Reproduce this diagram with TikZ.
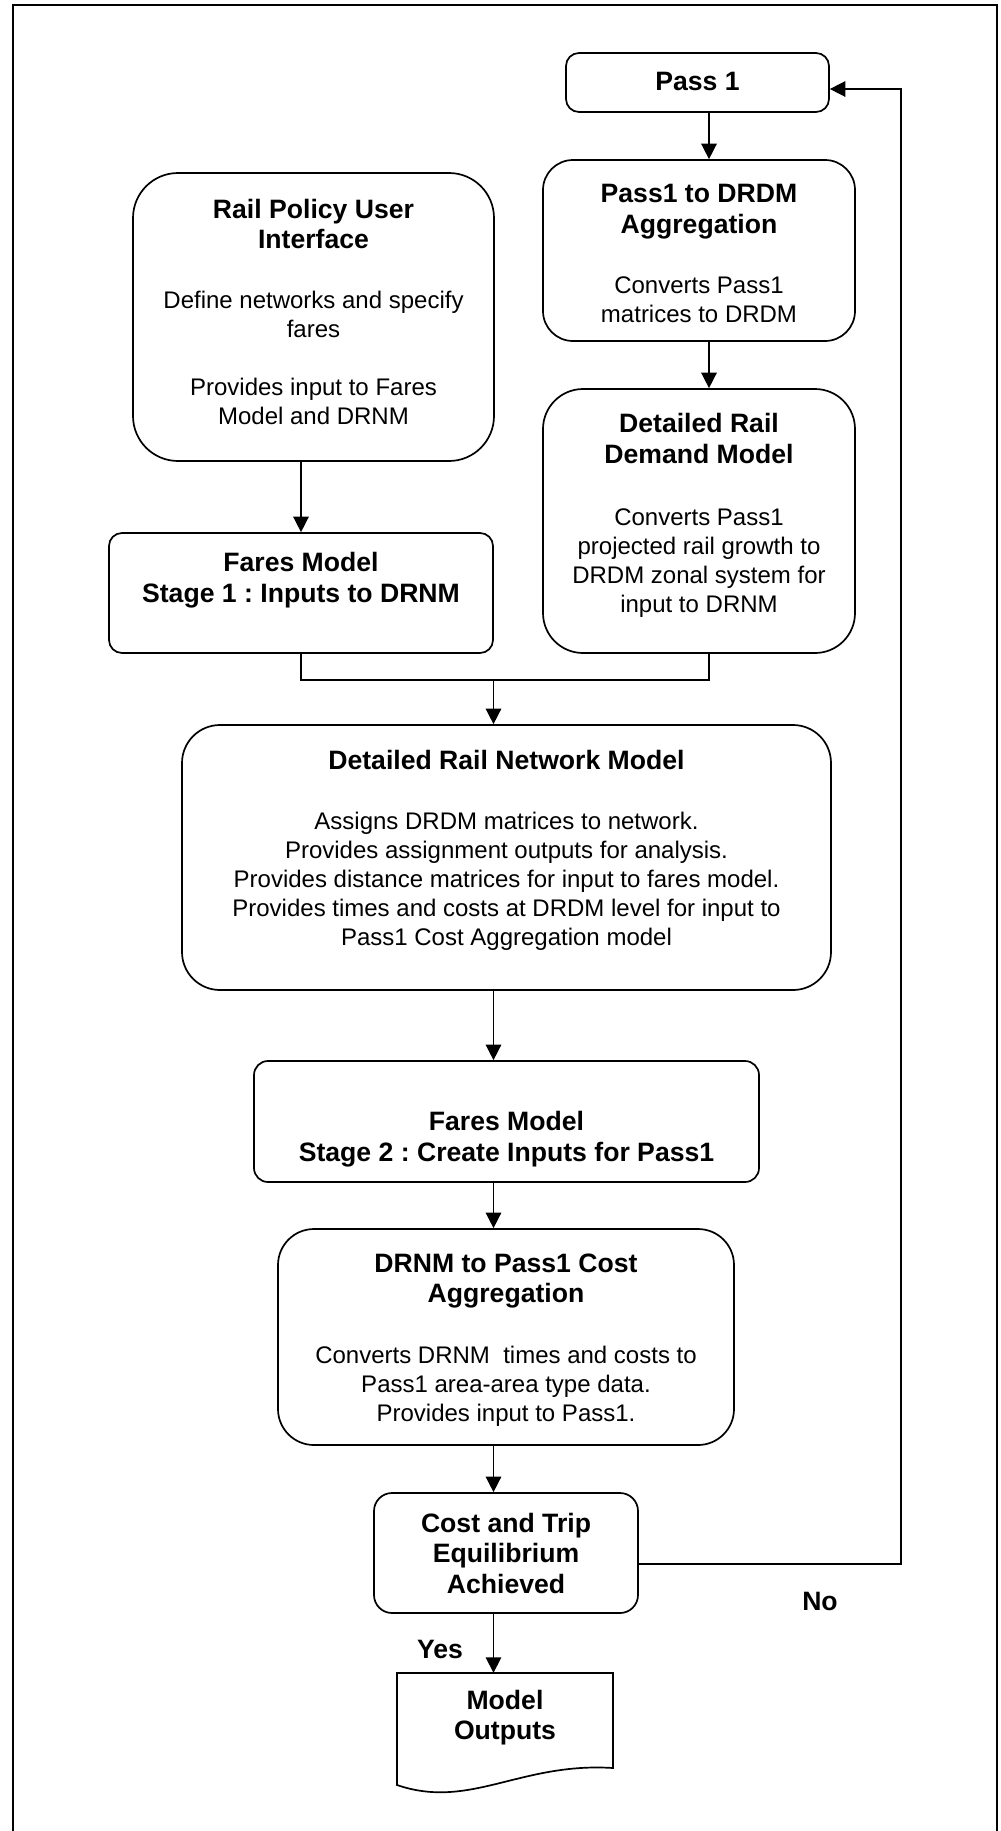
\documentclass[tikz,border=0pt]{standalone}
\usepackage{fontspec}
\setmainfont{Liberation Sans}
\usetikzlibrary{arrows.meta,calc}
\frenchspacing

\begin{document}
\begin{tikzpicture}[x=1pt,y=-1pt,
  box/.style={draw, line width=1.7pt, rectangle, inner sep=0pt},
  ttl/.style={font=\fontsize{26.6}{30.5}\selectfont\bfseries, align=center, inner sep=0pt},
  txt/.style={font=\fontsize{24}{29}\selectfont, align=center, inner sep=0pt},
  arr/.style={line width=1.5pt, -{Triangle[length=15.5pt,width=15.5pt]}},
  wire/.style={line width=1.5pt}]
\useasboundingbox (0,0) rectangle (1001,1831);
\fill[white] (0,0) rectangle (1001,1831);

% outer frame (open at the bottom edge of the page)
\draw[line width=2pt] (12.5,1845) |- (997,5) -- (997,1845);

% process boxes
\node[box, rounded corners=13pt, minimum width=263pt, minimum height=59pt]  (pass)    at (697.5,82.5) {};
\node[box, rounded corners=30pt, minimum width=312pt, minimum height=181pt] (agg)     at (699,250.5) {};
\node[box, rounded corners=45pt, minimum width=361pt, minimum height=288pt] (rail)    at (313.5,317) {};
\node[box, rounded corners=40pt, minimum width=312pt, minimum height=264pt] (drdm)    at (699,521) {};
\node[box, rounded corners=13pt, minimum width=384pt, minimum height=120pt] (fares1)  at (301,593) {};
\node[box, rounded corners=38pt, minimum width=649pt, minimum height=265pt] (drnm)    at (506.5,857.5) {};
\node[box, rounded corners=14pt, minimum width=505pt, minimum height=121pt] (fares2)  at (506.5,1121.5) {};
\node[box, rounded corners=36pt, minimum width=456pt, minimum height=216pt] (costagg) at (506,1337) {};
\node[box, rounded corners=18pt, minimum width=264pt, minimum height=120pt] (equil)   at (506,1553) {};

% document shape for the outputs
\node[inner sep=0pt, minimum width=216pt, minimum height=112pt] (out) at (505,1729) {};
\draw[line width=1.7pt, line join=miter]
  (397,1785) -- (397,1673) -- (613,1673) -- (613,1768)
  .. controls (520,1762) and (470,1810) .. (397,1785) -- cycle;

% box texts
\node[ttl] (passT) at (697.5,84) {\strut Pass 1\strut};

\node[ttl] (aggT) at (699,211.7) {\strut Pass1 to DRDM\\Aggregation\strut};
\node[txt] (aggB) at (699,302.4) {\strut Converts Pass1\\matrices to DRDM\strut};

\node[ttl] (railT) at (313.5,227.5) {\strut Rail Policy User\\Interface\strut};
\node[txt] (railB) at (313.5,360.9) {\strut Define networks and specify\\fares\\\strut\\Provides input to Fares\\Model and DRNM\strut};

\node[ttl] (drdmT) at (699,441.7) {\strut Detailed Rail\\Demand Model\strut};
\node[txt] (drdmB) at (699,562.9) {\strut Converts Pass1\\projected rail growth to\\DRDM zonal system for\\input to DRNM\strut};

\node[ttl] (fares1T) at (301,581) {\strut Fares Model\\Stage 1 : Inputs to DRNM\strut};

\node[ttl] (drnmT) at (506.5,763.7) {\strut Detailed Rail Network Model\strut};
\node[txt] (drnmB) at (506.5,882.1) {\strut Assigns DRDM matrices to network.\\Provides assignment outputs for analysis.\\Provides distance matrices for input to fares model.\\Provides times and costs at DRDM level for input to\\Pass1 Cost Aggregation model\strut};

\node[ttl] (fares2T) at (506.5,1140) {\strut Fares Model\\Stage 2 : Create Inputs for Pass1\strut};

\node[ttl] (costaggT) at (506,1281.2) {\strut DRNM to Pass1 Cost\\Aggregation\strut};
\node[txt] (costaggB) at (506,1387.1) {\strut Converts DRNM~ times and costs to\\Pass1 area-area type data.\\Provides input to Pass1.\strut};

\node[ttl] (equilT) at (506,1556.7) {\strut Cost and Trip\\Equilibrium\\Achieved\strut};

\node[ttl] (outT) at (505,1718.2) {\strut Model\\Outputs\strut};

% decision labels
\node[ttl] (yes) at (440,1652.7) {\strut Yes\strut};
\node[ttl] (no)  at (820,1604.2) {\strut No\strut};

% connectors
\coordinate (colR)   at (709,0);
\coordinate (spine)  at (493.5,0);
\coordinate (join)   at (493.5,680);
\coordinate (retTop) at (901,89);
\coordinate (retBot) at (901,1564);

\draw[arr] (pass.south -| colR) -- (agg.north -| colR);
\draw[arr] (agg.south -| colR) -- (drdm.north -| colR);
\draw[arr] (rail.south -| fares1.north) -- (fares1.north);
\draw[wire] (fares1.south) |- (join) -| (drdm.south -| colR);
\draw[arr] (join) -- (drnm.north -| spine);
\draw[arr] (drnm.south -| spine) -- (fares2.north -| spine);
\draw[arr] (fares2.south -| spine) -- (costagg.north -| spine);
\draw[arr] (costagg.south -| spine) -- (equil.north -| spine);
\draw[arr] (equil.south -| spine) -- (out.north -| spine);
\draw[arr] (equil.east |- retBot) -- (retBot) -- (retTop) -- (pass.east |- retTop);
\end{tikzpicture}
\end{document}
